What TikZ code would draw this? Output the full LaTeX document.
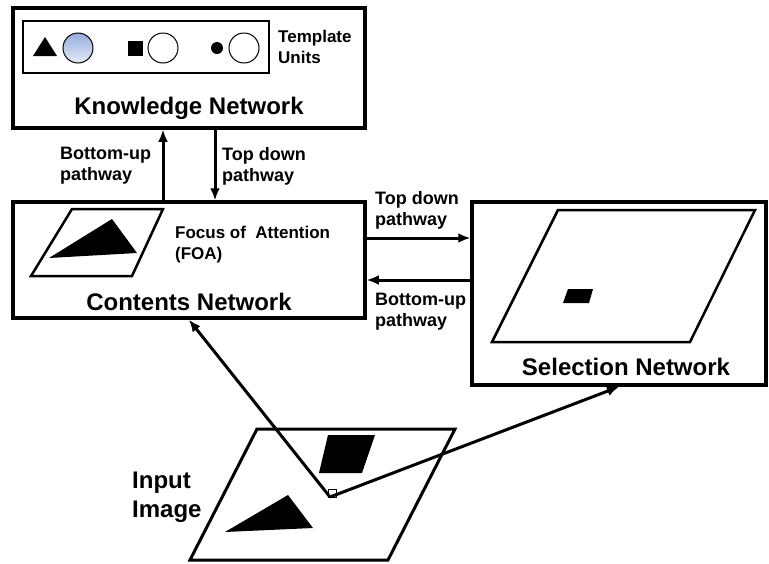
\documentclass[tikz,border=0pt]{standalone}
\usepackage{fontspec}
\setmainfont{Liberation Sans}
\usepackage{xcolor}
\usetikzlibrary{arrows.meta,positioning,calc}

\definecolor{tplblue}{RGB}{150,172,222}

\begin{document}
\begin{tikzpicture}[x=1pt,y=-1pt,
  netbox/.style={draw,line width=3.5pt,inner sep=0pt},
  tplbox/.style={draw,line width=2.5pt,inner sep=0pt},
  unit/.style={circle,draw,line width=1pt,minimum size=30pt,inner sep=0pt},
  plane/.style={draw,line width=2.5pt,fill=white,line join=miter},
  arr/.style={line width=3pt,-{Latex[length=12pt,width=10pt]}},
  title/.style={font=\fontsize{24}{29}\selectfont\bfseries,align=left,inner sep=0pt},
  lbl/.style={font=\fontsize{18}{21}\selectfont\bfseries,align=left,anchor=west,inner sep=0pt},
  small/.style={font=\fontsize{17}{21}\selectfont\bfseries,align=left,anchor=west,inner sep=0pt}]
  \useasboundingbox (0,0) rectangle (769,563);

  % knowledge network with the template units
  \node[netbox,minimum width=352pt,minimum height=120pt] (know) at (189,68) {};
  \node[tplbox,minimum width=246pt,minimum height=52pt] (tpl) at (146,47) {};
  \fill (33,56) -- (45,37) -- (57,56) -- cycle;
  \node[unit,top color=tplblue,bottom color=tplblue!25] (u1) at (78,48) {};
  \node[fill,minimum size=15pt,inner sep=0pt] (sq) at (135,48.5) {};
  \node[unit] (u2) at (163,48) {};
  \node[circle,fill,minimum size=12pt,inner sep=0pt] (dot) at (217,48) {};
  \node[unit] (u3) at (244,48) {};
  \node[small] (tplt) at (278,47) {Template\\Units};
  \node[title] (knowt) at (189,108) {Knowledge Network};

  % contents network
  \node[netbox,minimum width=352pt,minimum height=116pt] (contents) at (189,260) {};
  \draw[plane] (31,276) -- (72,209) -- (163,209) -- (132,276) -- cycle;
  \fill (49,258) -- (112,219) -- (137,253) -- cycle;
  \node[small] (foat) at (175,245) {Focus of\ \ Attention\\(FOA)};
  \node[title] (contt) at (189,302) {Contents Network};

  % selection network
  \node[netbox,minimum width=294pt,minimum height=183pt] (select) at (619,293.5) {};
  \draw[plane] (492,342) -- (558,210) -- (755,210) -- (690,342) -- cycle;
  \fill (563,303) -- (568,289) -- (593,289) -- (589,303) -- cycle;
  \node[title] (selt) at (626,367) {Selection Network};

  % input image
  \draw[plane,line width=3pt] (190,560) -- (257,429) -- (455,429) -- (388,560) -- cycle;
  \fill (319,473) -- (328,435) -- (375,435) -- (362,473) -- cycle;
  \fill (225,532) -- (288,495) -- (313,528) -- cycle;
  \node[title,anchor=west] (inpt) at (132,497) {Input\\Image};
  \coordinate (foa) at (330,497);
  \node[draw,fill=white,line width=0.8pt,minimum size=8pt,inner sep=0pt] (foabox) at (332,493) {};

  % pathways
  \coordinate (bux) at (163,0);
  \coordinate (tdx) at (215,0);
  \coordinate (tdy) at (0,238);
  \coordinate (buy) at (0,280);
  \draw[arr] (contents.north -| bux) -- (know.south -| bux);
  \draw[arr] (know.south -| tdx) -- (contents.north -| tdx);
  \draw[arr] (contents.east |- tdy) -- (select.west |- tdy);
  \draw[arr] (select.west |- buy) -- (contents.east |- buy);
  \node[lbl] (bul) at (60,166) {Bottom-up\\pathway};
  \node[lbl] (tdl) at (222,166) {Top down\\pathway};
  \node[lbl] (tdr) at (375,210) {Top down\\pathway};
  \node[lbl] (bur) at (375,312) {Bottom-up\\pathway};

  \draw[arr] (foa) -- (contents.south);
  \draw[arr] (foa) -- (select.south);
\end{tikzpicture}
\end{document}
